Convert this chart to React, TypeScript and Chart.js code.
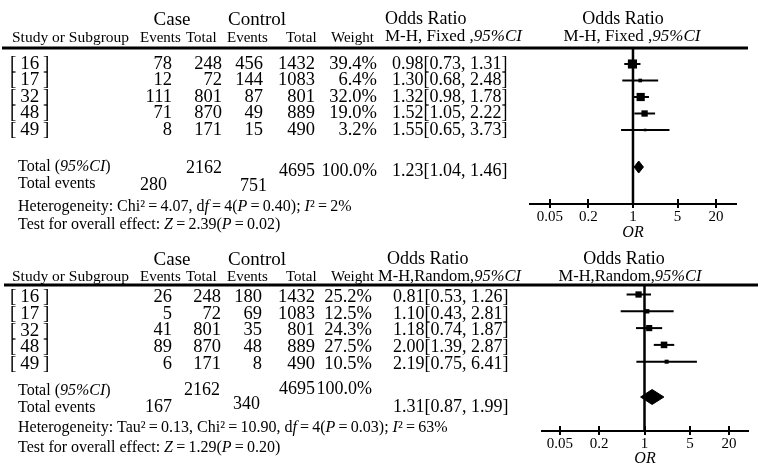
import React, { useEffect, useRef } from "react";
import { Chart, registerables } from "chart.js";
Chart.register(...registerables);

const FONT = '"Liberation Serif", "Times New Roman", Times, serif';

// ---------------- data ----------------
const studyLabels = ["16", "17", "32", "48", "49"];
const orTicks = [0.05, 0.2, 1, 5, 20];

const fixedCaseEvents = [78, 12, 111, 71, 8];
const fixedCaseTotal = [248, 72, 801, 870, 171];
const fixedControlEvents = [456, 144, 87, 49, 15];
const fixedControlTotal = [1432, 1083, 801, 889, 490];
const fixedWeight = [39.4, 6.4, 32.0, 19.0, 3.2];
const fixedOR = [0.98, 1.3, 1.32, 1.52, 1.55];
const fixedLower = [0.73, 0.68, 0.98, 1.05, 0.65];
const fixedUpper = [1.31, 2.48, 1.78, 2.22, 3.73];
const fixedPooled = [1.23, 1.04, 1.46]; // OR, lower, upper
const fixedTotals = [2162, 4695];
const fixedTotalEvents = [280, 751];
const fixedHeterogeneity = [4.07, 4, 0.4, 2]; // Chi2, df, P, I2
const fixedOverall = [2.39, 0.02]; // Z, P

const randomCaseEvents = [26, 5, 41, 89, 6];
const randomCaseTotal = [248, 72, 801, 870, 171];
const randomControlEvents = [180, 69, 35, 48, 8];
const randomControlTotal = [1432, 1083, 801, 889, 490];
const randomWeight = [25.2, 12.5, 24.3, 27.5, 10.5];
const randomOR = [0.81, 1.1, 1.18, 2.0, 2.19];
const randomLower = [0.53, 0.43, 0.74, 1.39, 0.75];
const randomUpper = [1.26, 2.81, 1.87, 2.87, 6.41];
const randomPooled = [1.31, 0.87, 1.99];
const randomTotals = [2162, 4695];
const randomTotalEvents = [167, 340];
const randomHeterogeneity = [0.13, 10.9, 4, 0.03, 63]; // Tau2, Chi2, df, P, I2
const randomOverall = [1.29, 0.2]; // Z, P

// ---------------- text helper ----------------
type Run = [string, boolean?];
type TextItem = {
  runs: Run[];
  x: number;
  y: number;
  size: number;
  align?: "left" | "right" | "center";
};

function drawText(ctx: CanvasRenderingContext2D, item: TextItem) {
  const { runs, x, y, size, align = "left" } = item;
  const fontFor = (it?: boolean) => `${it ? "italic " : ""}${size}px ${FONT}`;
  ctx.save();
  ctx.textBaseline = "middle";
  ctx.textAlign = "left";
  ctx.fillStyle = "#000";
  let width = 0;
  for (const [t, it] of runs) {
    ctx.font = fontFor(it);
    width += ctx.measureText(t).width;
  }
  let cx = align === "right" ? x - width : align === "center" ? x - width / 2 : x;
  for (const [t, it] of runs) {
    ctx.font = fontFor(it);
    ctx.fillText(t, cx, y);
    cx += ctx.measureText(t).width;
  }
  ctx.restore();
}

const f2 = (v: number) => v.toFixed(2);
const EQ = "\u2009=\u2009";
const orText = (o: number, l: number, h: number) => `${f2(o)}[${f2(l)}, ${f2(h)}]`;

// ---------------- panel spec ----------------
type Spec = {
  top: number;
  height: number;
  padTop: number;
  axisHeight: number;
  padLeft: number;
  padRight: number;
  xMin: number;
  xMax: number;
  row1Y: number;
  pitch: number;
  pooledY: number;
  diamondHalf: number;
  boxScale: number;
  textDy: number;
  tickPad: number;
  titlePad: number;
  ruleY: number;
  ruleX: [number, number];
  colRight: number[];
  orX: number;
  caseEvents: number[];
  caseTotal: number[];
  controlEvents: number[];
  controlTotal: number[];
  weight: number[];
  or: number[];
  lower: number[];
  upper: number[];
  pooled: number[];
  texts: TextItem[];
};

const headerRow = (y: number): TextItem[] => [
  { runs: [["Study or Subgroup"]], x: 12, y, size: 15.5 },
  { runs: [["Events"]], x: 140, y, size: 15 },
  { runs: [["Total"]], x: 186, y, size: 15 },
  { runs: [["Events"]], x: 227, y, size: 15 },
  { runs: [["Total"]], x: 286, y, size: 15 },
  { runs: [["Weight"]], x: 331, y, size: 15 },
];

const testRuns = (z: number, pv: number): Run[] => [
  ["Test for overall effect: "],
  ["Z", true],
  [`${EQ}${f2(z)}(`],
  ["P", true],
  [`${EQ}${f2(pv)})`],
];

const fixedSpec: Spec = {
  top: 0,
  height: 242,
  padTop: 48,
  axisHeight: 38,
  padLeft: 530,
  padRight: 22,
  xMin: 0.0243,
  xMax: 41.2,
  row1Y: 64,
  pitch: 16.5,
  pooledY: 167,
  diamondHalf: 6,
  boxScale: 1.45,
  textDy: 0,
  tickPad: 4,
  titlePad: 0,
  ruleY: 48,
  ruleX: [2, 748],
  colRight: [172, 222, 263, 315, 377],
  orX: 392,
  caseEvents: fixedCaseEvents,
  caseTotal: fixedCaseTotal,
  controlEvents: fixedControlEvents,
  controlTotal: fixedControlTotal,
  weight: fixedWeight,
  or: fixedOR,
  lower: fixedLower,
  upper: fixedUpper,
  pooled: fixedPooled,
  texts: [
    { runs: [["Case"]], x: 172, y: 20, size: 19, align: "center" },
    { runs: [["Control"]], x: 257, y: 20, size: 19, align: "center" },
    ...headerRow(38),
    { runs: [["Odds Ratio"]], x: 385, y: 19, size: 18 },
    { runs: [["M-H, Fixed ,"], ["95%CI", true]], x: 385, y: 37, size: 17 },
    { runs: [["Odds Ratio"]], x: 623, y: 19, size: 18, align: "center" },
    { runs: [["M-H, Fixed ,"], ["95%CI", true]], x: 632, y: 37, size: 17, align: "center" },
    { runs: [["Total ("], ["95%CI", true], [")"]], x: 18, y: 167, size: 16 },
    { runs: [[String(fixedTotals[0])]], x: 222, y: 168, size: 18, align: "right" },
    { runs: [[String(fixedTotals[1])]], x: 315, y: 171, size: 18, align: "right" },
    { runs: [[fixedWeight.reduce((a, b) => a + b, 0).toFixed(1) + "%"]], x: 377, y: 171, size: 18, align: "right" },
    { runs: [[orText(fixedPooled[0], fixedPooled[1], fixedPooled[2])]], x: 392, y: 171, size: 18 },
    { runs: [["Total events"]], x: 18, y: 184, size: 16 },
    { runs: [[String(fixedTotalEvents[0])]], x: 167, y: 185, size: 18, align: "right" },
    { runs: [[String(fixedTotalEvents[1])]], x: 267, y: 186, size: 18, align: "right" },
    {
      runs: [
        [`Heterogeneity: Chi\u00b2${EQ}${f2(fixedHeterogeneity[0])}, d`],
        ["f", true],
        [`${EQ}${fixedHeterogeneity[1]}(`],
        ["P", true],
        [`${EQ}${f2(fixedHeterogeneity[2])}); `],
        ["I", true],
        [`\u00b2${EQ}${fixedHeterogeneity[3]}%`],
      ],
      x: 18,
      y: 207,
      size: 16,
    },
    { runs: testRuns(fixedOverall[0], fixedOverall[1]), x: 18, y: 225, size: 16 },
  ],
};

const randomSpec: Spec = {
  top: 242,
  height: 232,
  padTop: 43,
  axisHeight: 43,
  padLeft: 542,
  padRight: 10,
  xMin: 0.02643,
  xMax: 39.2,
  row1Y: 294.5,
  pitch: 16.8,
  pooledY: 397,
  diamondHalf: 7.5,
  boxScale: 1.25,
  textDy: 2.5,
  tickPad: 4,
  titlePad: 5.4,
  ruleY: 285,
  ruleX: [4, 758],
  colRight: [172, 221, 262, 315, 372],
  orX: 393,
  caseEvents: randomCaseEvents,
  caseTotal: randomCaseTotal,
  controlEvents: randomControlEvents,
  controlTotal: randomControlTotal,
  weight: randomWeight,
  or: randomOR,
  lower: randomLower,
  upper: randomUpper,
  pooled: randomPooled,
  texts: [
    { runs: [["Case"]], x: 172, y: 260, size: 19, align: "center" },
    { runs: [["Control"]], x: 257, y: 260, size: 19, align: "center" },
    ...headerRow(277),
    { runs: [["Odds Ratio"]], x: 387, y: 259, size: 18 },
    { runs: [["M-H,Random,"], ["95%CI", true]], x: 378, y: 277, size: 16.5 },
    { runs: [["Odds Ratio"]], x: 624, y: 259, size: 18, align: "center" },
    { runs: [["M-H,Random,"], ["95%CI", true]], x: 630, y: 277, size: 16.5, align: "center" },
    { runs: [["Total ("], ["95%CI", true], [")"]], x: 18, y: 391, size: 16 },
    { runs: [[String(randomTotals[0])]], x: 220, y: 390, size: 18, align: "right" },
    { runs: [[String(randomTotals[1])]], x: 315, y: 389, size: 18, align: "right" },
    { runs: [[randomWeight.reduce((a, b) => a + b, 0).toFixed(1) + "%"]], x: 372, y: 389, size: 18, align: "right" },
    { runs: [[orText(randomPooled[0], randomPooled[1], randomPooled[2])]], x: 393, y: 407, size: 18 },
    { runs: [["Total events"]], x: 18, y: 408, size: 16 },
    { runs: [[String(randomTotalEvents[0])]], x: 172, y: 407, size: 18, align: "right" },
    { runs: [[String(randomTotalEvents[1])]], x: 260, y: 404, size: 18, align: "right" },
    {
      runs: [
        [`Heterogeneity: Tau\u00b2${EQ}${f2(randomHeterogeneity[0])}, Chi\u00b2${EQ}${f2(randomHeterogeneity[1])}, d`],
        ["f", true],
        [`${EQ}${randomHeterogeneity[2]}(`],
        ["P", true],
        [`${EQ}${f2(randomHeterogeneity[3])}); `],
        ["I", true],
        [`\u00b2${EQ}${randomHeterogeneity[4]}%`],
      ],
      x: 18,
      y: 428,
      size: 16,
    },
    { runs: testRuns(randomOverall[0], randomOverall[1]), x: 18, y: 448, size: 16 },
  ],
};

// ---------------- chart ----------------
function buildChart(canvas: HTMLCanvasElement, p: Spec) {
  const areaTop = p.top + p.padTop;
  const areaBottom = p.top + p.height - p.axisHeight;
  const yMin = 1 - (p.row1Y - areaTop) / p.pitch;
  const yMax = 1 + (areaBottom - p.row1Y) / p.pitch;
  const pooledRow = 1 + (p.pooledY - p.row1Y) / p.pitch;
  const dh = p.diamondHalf / p.pitch;
  const rows = p.or.map((_, i) => i + 1);

  const ciSets = p.or.map((_, i) => ({
    type: "scatter",
    showLine: true,
    data: [
      { x: p.lower[i], y: rows[i] },
      { x: p.upper[i], y: rows[i] },
    ],
    borderColor: "#000",
    borderWidth: 2,
    pointRadius: 0,
    order: 3,
  }));

  const boxes = {
    type: "scatter",
    data: p.or.map((v, i) => ({ x: v, y: rows[i] })),
    pointStyle: "rect",
    pointRadius: p.weight.map((w) => (p.boxScale * Math.sqrt(w)) / Math.SQRT2),
    backgroundColor: "#000",
    borderColor: "#000",
    borderWidth: 0,
    order: 1,
  };

  const [po, pl, ph] = p.pooled;
  const diamond = {
    type: "line",
    data: [
      { x: pl, y: pooledRow },
      { x: po, y: pooledRow - dh },
      { x: ph, y: pooledRow },
      { x: po, y: pooledRow + dh },
      { x: pl, y: pooledRow },
    ],
    fill: "shape",
    backgroundColor: "#000",
    borderColor: "#000",
    borderWidth: 1,
    pointRadius: 0,
    tension: 0,
    order: 1,
  };

  const nullLine = {
    type: "scatter",
    showLine: true,
    data: [
      { x: 1, y: yMin },
      { x: 1, y: yMax },
    ],
    borderColor: "#000",
    borderWidth: 2.5,
    pointRadius: 0,
    order: 2,
  };

  const tablePlugin = {
    id: "forestTable",
    afterDraw(chart: any) {
      const ctx: CanvasRenderingContext2D = chart.ctx;
      const xs = chart.scales.x;
      const ys = chart.scales.y;
      const axisY = chart.chartArea.bottom;
      ctx.save();
      ctx.strokeStyle = "#000";
      ctx.lineWidth = 2;
      for (const t of orTicks) {
        const px = Math.round(xs.getPixelForValue(t));
        ctx.beginPath();
        ctx.moveTo(px, axisY - 5);
        ctx.lineTo(px, axisY + 4);
        ctx.stroke();
      }
      ctx.translate(0, -p.top);
      ctx.lineWidth = 3;
      ctx.beginPath();
      ctx.moveTo(p.ruleX[0], p.ruleY);
      ctx.lineTo(p.ruleX[1], p.ruleY);
      ctx.stroke();
      for (const t of p.texts) drawText(ctx, t);
      rows.forEach((r, i) => {
        const y = ys.getPixelForValue(r) + p.top + p.textDy;
        drawText(ctx, { runs: [[`[\u2009${studyLabels[i]}\u2009]`]], x: 10, y, size: 19 });
        const cols = [
          String(p.caseEvents[i]),
          String(p.caseTotal[i]),
          String(p.controlEvents[i]),
          String(p.controlTotal[i]),
          p.weight[i].toFixed(1) + "%",
        ];
        cols.forEach((c, j) => drawText(ctx, { runs: [[c]], x: p.colRight[j], y, size: 18.5, align: "right" }));
        drawText(ctx, { runs: [[orText(p.or[i], p.lower[i], p.upper[i])]], x: p.orX, y, size: 18 });
      });
      ctx.restore();
    },
  };

  return new Chart(canvas, {
    type: "scatter",
    data: { datasets: [...ciSets, boxes, diamond, nullLine] as any },
    options: {
      animation: false,
      responsive: false,
      maintainAspectRatio: false,
      events: [],
      layout: { padding: { left: p.padLeft, right: p.padRight, top: p.padTop, bottom: 0 } },
      plugins: { legend: { display: false }, tooltip: { enabled: false } },
      scales: {
        x: {
          type: "logarithmic",
          position: "bottom",
          min: p.xMin,
          max: p.xMax,
          afterBuildTicks: (s: any) => {
            s.ticks = orTicks.map((v) => ({ value: v }));
          },
          afterFit: (s: any) => {
            s.height = p.axisHeight;
          },
          ticks: {
            autoSkip: false,
            maxRotation: 0,
            color: "#000",
            padding: p.tickPad,
            font: { family: FONT, size: 15 },
            callback: (v: any) => String(v),
          },
          grid: { display: false, drawTicks: false },
          border: { display: true, color: "#000", width: 2 },
          title: {
            display: true,
            text: "OR",
            color: "#000",
            font: { family: FONT, size: 16, style: "italic" },
            padding: { top: 0, bottom: p.titlePad },
          },
        },
        y: { type: "linear", reverse: true, min: yMin, max: yMax, display: false },
      },
    } as any,
    plugins: [tablePlugin],
  });
}

function Panel({ spec }: { spec: Spec }) {
  const ref = useRef<HTMLCanvasElement>(null);
  useEffect(() => {
    if (!ref.current) return;
    const chart = buildChart(ref.current, spec);
    return () => chart.destroy();
  }, [spec]);
  return (
    <canvas
      ref={ref}
      width={758}
      height={spec.height}
      style={{ position: "absolute", left: 0, top: spec.top, width: 758, height: spec.height }}
    />
  );
}

export default function App() {
  return (
    <div
      style={{
        position: "fixed",
        left: 0,
        top: 0,
        width: 758,
        height: 463,
        overflow: "hidden",
        background: "#fff",
      }}
    >
      <Panel spec={fixedSpec} />
      <Panel spec={randomSpec} />
    </div>
  );
}
